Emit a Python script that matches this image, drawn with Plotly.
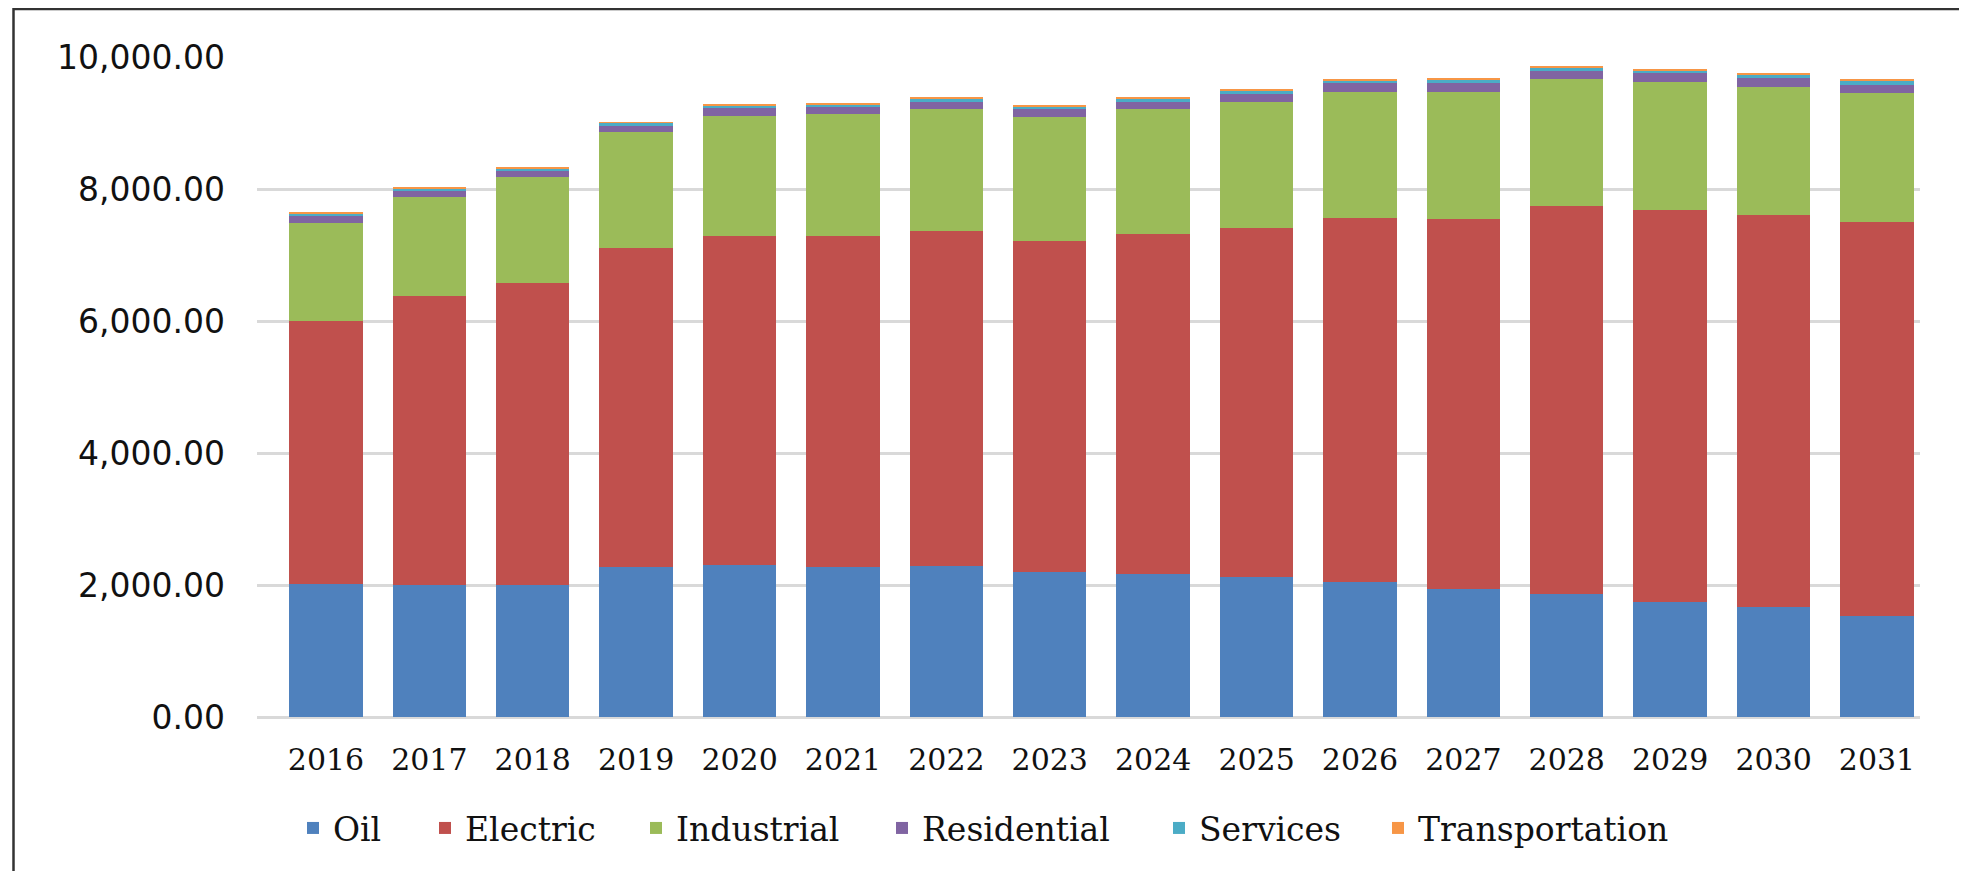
import plotly.graph_objects as go

years = ["2016", "2017", "2018", "2019", "2020", "2021", "2022", "2023",
         "2024", "2025", "2026", "2027", "2028", "2029", "2030", "2031"]

oil = [2020, 1995, 1995, 2280, 2305, 2270, 2295, 2200, 2160, 2115, 2040, 1935, 1860, 1750, 1670, 1530]
electric = [3980, 4385, 4585, 4820, 4980, 5015, 5070, 5010, 5165, 5295, 5525, 5615, 5875, 5930, 5930, 5970]
industrial = [1490, 1505, 1595, 1760, 1815, 1845, 1845, 1885, 1885, 1915, 1910, 1925, 1935, 1940, 1945, 1955]
residential = [95, 90, 100, 100, 120, 110, 110, 115, 110, 115, 125, 135, 120, 135, 130, 125]
services = [50, 30, 40, 40, 40, 45, 50, 40, 50, 50, 50, 50, 55, 45, 55, 60]
transportation = [15, 15, 15, 15, 15, 15, 15, 15, 15, 15, 15, 15, 15, 15, 15, 15]

series_names = ["Oil", "Electric", "Industrial", "Residential", "Services", "Transportation"]
series_values = [oil, electric, industrial, residential, services, transportation]
series_colors = ["#4F81BD", "#C0504D", "#9BBB59", "#8064A2", "#4BACC6", "#F79646"]

y_ticks = [0, 2000, 4000, 6000, 8000, 10000]

# page offset of the figure inside the browser page (body margin)
OFF = 8
W, H = 1967 - OFF, 871 - OFF
L, R, T, B = 249, 47, 49, 154
pw, ph = W - L - R, H - T - B

# legend marker centres (page px) and vertical centre
legend_marker_px = [313, 445, 656, 902, 1179, 1398]
legend_y_px = 828 - OFF

fig = go.Figure()
legend_layouts = {}
for i, (name, vals, color) in enumerate(zip(series_names, series_values, series_colors)):
    key = "legend" if i == 0 else f"legend{i + 1}"
    fig.add_trace(go.Bar(x=years, y=vals, name=name, legend=key,
                         marker=dict(color=color, line=dict(width=0))))
    left_px = legend_marker_px[i] - OFF - 20
    legend_layouts[key] = dict(
        orientation="h", x=(left_px - L) / pw, xanchor="left",
        y=(T + ph - legend_y_px) / ph, yanchor="middle",
        bgcolor="rgba(0,0,0,0)", borderwidth=0,
        font=dict(family="DejaVu Serif", size=33, color="#111111"))

fig.update_layout(
    width=W, height=H,
    barmode="stack", bargap=0.29,
    paper_bgcolor="white", plot_bgcolor="white",
    margin=dict(l=L, r=R, t=T, b=B, autoexpand=False),
    font=dict(family="DejaVu Serif", color="#111111"),
    showlegend=True,
    xaxis=dict(type="category", range=[-0.667, 15.416],
               showgrid=False, showline=False, ticks="",
               tickfont=dict(family="DejaVu Serif", size=30, color="#111111"),
               ticklabelstandoff=22),
    yaxis=dict(range=[0, 10000], tickvals=y_ticks, tickformat=",.2f",
               showgrid=True, gridcolor="#d9d9d9", gridwidth=2.5,
               zeroline=True, zerolinecolor="#d9d9d9", zerolinewidth=3,
               showline=False, ticks="",
               tickfont=dict(family="DejaVu Sans", size=33, color="#111111"),
               ticklabelstandoff=31),
    shapes=[
        dict(type="line", xref="paper", yref="paper",
             x0=(5.5 - L) / pw, x1=(5.5 - L) / pw,
             y0=(T + ph - 0) / ph, y1=(T + ph - 900) / ph,
             line=dict(color="#333333", width=2.5)),
        dict(type="line", xref="paper", yref="paper",
             x0=(5.5 - L) / pw, x1=(2000 - L) / pw,
             y0=(T + ph - 1) / ph, y1=(T + ph - 1) / ph,
             line=dict(color="#333333", width=2.5)),
    ],
    **legend_layouts,
)

fig.write_html("out.html")
